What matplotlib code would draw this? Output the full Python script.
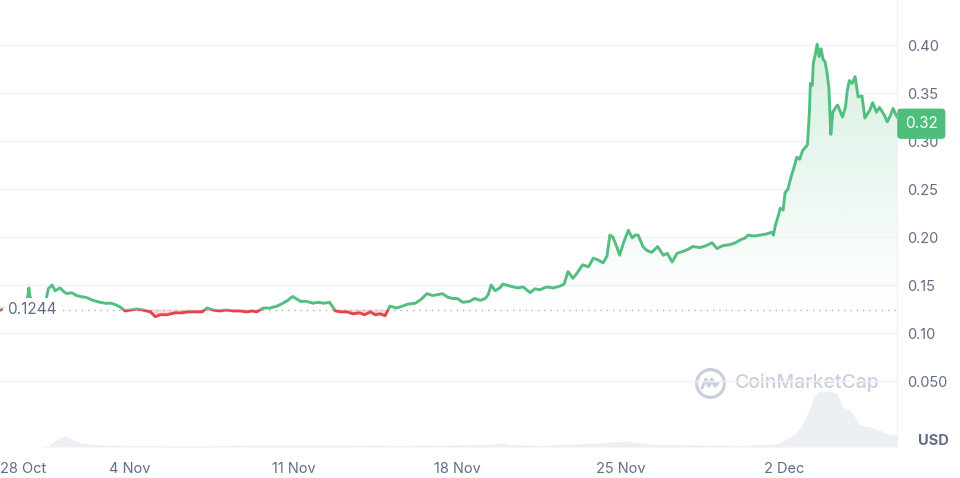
import numpy as np
import matplotlib
matplotlib.use('Agg')
import matplotlib.pyplot as plt
from matplotlib.patches import Rectangle
from matplotlib.path import Path
from matplotlib.colors import to_rgb
from matplotlib.transforms import blended_transform_factory

plt.rcParams['font.family'] = ['Inter', 'DejaVu Sans']

# time axis: hours since 28 Oct 00:00
hours = [34, 40, 47, 55, 61, 63, 64, 65, 68, 76, 81, 84, 88, 91, 96, 100, 103, 108,
         113, 117, 123, 130, 137, 143, 149, 154, 158, 163, 169, 175, 181, 189, 194,
         199, 206, 214, 221, 227, 235, 242, 247, 253, 260, 267, 274, 281, 288, 294,
         298, 305, 312, 319, 325, 330, 335, 340, 343, 349, 356, 361, 367, 373, 379,
         385, 391, 397, 404, 409, 415, 420, 425, 430, 435, 442, 448, 453, 461, 467,
         473, 479, 484, 489, 494, 499, 504, 510, 517, 522, 528, 533, 536, 539, 543,
         548, 551, 558, 566, 572, 579, 584, 589, 596, 603, 610, 614, 618, 623, 627,
         633, 639, 644, 649, 654, 658, 661, 664, 668, 671, 675, 680, 684, 687, 690,
         695, 699, 704, 710, 716, 720, 725, 730, 736, 741, 746, 754, 760, 766, 771,
         777, 784, 790, 795, 800, 803, 809, 815, 821, 828, 829, 831, 834, 836, 839,
         841, 844, 847, 850, 853, 856, 859, 864, 866, 867, 869, 870, 872, 874, 876,
         878, 880, 882, 884, 886, 887, 888, 890, 893, 895, 900, 903, 905, 907, 910,
         913, 916, 920, 923, 928, 931, 935, 938, 943, 946, 949, 952, 955, 957]
price = [0.1238, 0.126, 0.128, 0.127, 0.129, 0.138, 0.147, 0.139, 0.129, 0.130,
         0.131, 0.146, 0.150, 0.144, 0.147, 0.143, 0.141, 0.142, 0.139, 0.138,
         0.137, 0.134, 0.132, 0.131, 0.131, 0.129, 0.127, 0.123, 0.124, 0.125,
         0.124, 0.122, 0.117, 0.119, 0.119, 0.121, 0.121, 0.122, 0.122, 0.122,
         0.126, 0.124, 0.123, 0.124, 0.123, 0.123, 0.122, 0.123, 0.122, 0.126,
         0.126, 0.128, 0.131, 0.134, 0.138, 0.135, 0.133, 0.133, 0.131, 0.132,
         0.131, 0.132, 0.123, 0.122, 0.122, 0.120, 0.121, 0.119, 0.122, 0.119,
         0.120, 0.118, 0.128, 0.126, 0.128, 0.130, 0.131, 0.135, 0.141, 0.139,
         0.140, 0.141, 0.1375, 0.136, 0.136, 0.132, 0.133, 0.136, 0.134, 0.136,
         0.140, 0.150, 0.144, 0.147, 0.151, 0.149, 0.147, 0.148, 0.142, 0.146,
         0.145, 0.148, 0.147, 0.149, 0.151, 0.164, 0.157, 0.162, 0.171, 0.169,
         0.178, 0.176, 0.173, 0.180, 0.202, 0.200, 0.190, 0.181, 0.194, 0.207,
         0.199, 0.202, 0.202, 0.190, 0.186, 0.184, 0.190, 0.181, 0.183, 0.174,
         0.183, 0.185, 0.187, 0.190, 0.189, 0.191, 0.194, 0.188, 0.191, 0.192,
         0.194, 0.197, 0.199, 0.202, 0.201, 0.202, 0.203, 0.205, 0.202, 0.212,
         0.222, 0.230, 0.228, 0.246, 0.250, 0.262, 0.272, 0.283, 0.281, 0.290,
         0.296, 0.330, 0.360, 0.358, 0.381, 0.390, 0.401, 0.388, 0.396, 0.385,
         0.383, 0.372, 0.355, 0.332, 0.307, 0.330, 0.335, 0.3375, 0.325, 0.335,
         0.353, 0.363, 0.360, 0.367, 0.346, 0.347, 0.324, 0.332, 0.340, 0.330,
         0.335, 0.327, 0.320, 0.326, 0.334, 0.327, 0.324]

vol_hours = [34, 76, 84, 91, 98, 103, 108, 117, 127, 137, 168, 240, 291, 343, 394,
             445, 497, 538, 550, 558, 589, 620, 651, 677, 692, 712, 754, 795, 815,
             833, 846, 856, 859, 865, 870, 877, 887, 894, 900, 908, 918, 928, 938,
             947, 956]
volume = [0, 0, 1, 6, 10, 11, 8, 4, 3, 2, 1.5, 1, 2, 2, 2, 1.5, 2, 2.5, 4, 2.5, 1.5,
          3, 4, 6, 4, 2.5, 2, 1.5, 2.5, 3, 10, 18, 24, 35, 50, 56, 56, 54, 40, 37,
          22, 20, 17, 13, 12]

open_price = 0.1244
current_price = 0.318
tick_hours = [168, 336, 504, 672, 840]
tick_labels = ['4 Nov', '11 Nov', '18 Nov', '25 Nov', '2 Dec']
y_ticks = [0.05, 0.10, 0.15, 0.20, 0.25, 0.30, 0.35, 0.40]
y_labels = ['0.050', '0.10', '0.15', '0.20', '0.25', '0.30', '0.35', '0.40']

green = '#52bf80'
red = '#e0464b'
txt = '#616e85'
grid = '#eef1f5'

h = np.array(hours, dtype=float)
p = np.array(price)
x0, x1 = 34.4, 956
y0, y1 = -0.01875, 0.4469

fig = plt.figure(figsize=(9.6, 4.78), dpi=100)
pos = [0, 31 / 478, 897 / 960, 447 / 478]

vax = fig.add_axes(pos)
vax.fill_between(vol_hours, volume, 0, color='#eceff3', lw=0)
vax.set_xlim(x0, x1)
vax.set_ylim(0, max(volume) * 8)
vax.axis('off')

ax = fig.add_axes(pos)
ax.patch.set_alpha(0)
ax.set_xlim(x0, x1)
ax.set_ylim(y0, y1)

# green gradient area above the open price
poly = ax.fill_between(h, p, open_price, where=p >= open_price, interpolate=True,
                       color='none', lw=0)
grad = np.zeros((256, 1, 4))
grad[:, 0, :3] = to_rgb(green)
grad[:, 0, 3] = np.linspace(0.0, 0.24, 256)
im = ax.imshow(grad, extent=(x0, x1, open_price, 0.41), origin='lower',
               aspect='auto', zorder=1)
im.set_clip_path(Path.make_compound_path(*poly.get_paths()), ax.transData)

ax.fill_between(h, p, open_price, where=p < open_price, interpolate=True,
                color=red, alpha=0.2, lw=0, zorder=1)

lg, = ax.plot(h, p, color=green, lw=2.1, zorder=3, solid_joinstyle='round')
lg.set_clip_path(Rectangle((x0, open_price), x1 - x0, 1, transform=ax.transData))
lr, = ax.plot(h, p, color=red, lw=2.1, zorder=3, solid_joinstyle='round')
lr.set_clip_path(Rectangle((x0, -1), x1 - x0, 1 + open_price, transform=ax.transData))

ax.axhline(open_price, color='#a9b2c2', lw=1, ls=(0, (1, 3.5)), zorder=2)
ax.text(x0 + 7, open_price, '0.1244', color=txt, fontsize=11, va='center',
        ha='left', zorder=5,
        bbox=dict(boxstyle='square,pad=0.25', fc='white', ec='none'))

# axes styling
ax.yaxis.tick_right()
ax.set_yticks(y_ticks, y_labels)
ax.set_xticks([x0] + tick_hours, ['28 Oct'] + tick_labels)
ax.get_xticklabels()[0].set_horizontalalignment('left')
ax.tick_params(axis='y', length=0, pad=7, labelsize=10.5, labelcolor=txt)
ax.tick_params(axis='x', length=0, pad=11, labelsize=10.5, labelcolor=txt)
ax.grid(axis='y', color=grid, lw=1, zorder=0)
for s in ['top', 'left', 'bottom']:
    ax.spines[s].set_visible(False)
ax.spines['right'].set_color(grid)

ax.text(1.023, 0.013, 'USD', transform=ax.transAxes, ha='left', va='center',
        fontsize=10.5, fontweight='bold', color=txt)

# current price badge
bt = blended_transform_factory(ax.transAxes, ax.transData)
ax.annotate('0.32', xy=(1, current_price), xycoords=bt, xytext=(17.5, 0),
            textcoords='offset points', ha='center', va='center', color='white',
            fontsize=11, zorder=6, annotation_clip=False,
            bbox=dict(boxstyle='round,pad=0.5,rounding_size=0.25', fc='#4fbd7c', ec='none'))

# watermark
wm = '#c9d0dc'
ax.plot([0.7915], [0.143], transform=ax.transAxes, marker='o', ms=20, mfc='none',
        mec=wm, mew=2.3, zorder=1)
mx = 0.7915 + np.array([-8, -4, -1, 2, 5, 8]) / 897
my = 0.143 + np.array([-5, 4, -3, 4, -3, 0]) / 447
ax.plot(mx, my, transform=ax.transAxes, color=wm, lw=2.2, zorder=1,
        solid_joinstyle='round', solid_capstyle='round')
ax.text(0.819, 0.143, 'CoinMarketCap', transform=ax.transAxes, ha='left',
        va='center', fontsize=14, color=wm, fontweight='medium', zorder=1)

fig.savefig('out.png', dpi=100)
